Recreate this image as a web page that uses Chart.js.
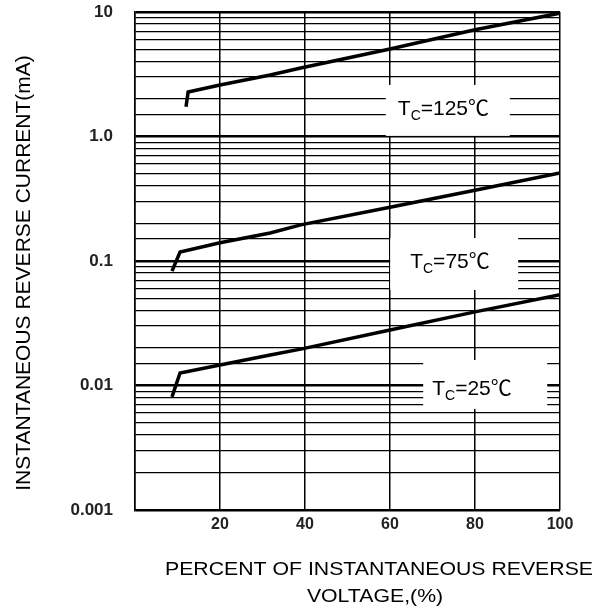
<!DOCTYPE html>
<html>
<head>
<meta charset="utf-8">
<script src="https://cdn.jsdelivr.net/npm/chart.js@4"></script>
<style>
  html, body { margin: 0; padding: 0; background: #fff; }
  canvas { display: block; }
</style>
</head>
<body>
<canvas id="chart" width="605" height="611"></canvas>
<script>
// curves: percent of reverse voltage vs current (mA)
const x125 = [12, 12.5, 20, 31.8, 39, 60, 80, 100];
const y125 = [1.73, 2.28, 2.59, 3.12, 3.55, 5.05, 7.2, 9.8];

const x75 = [8.7, 10.6, 20, 31.8, 39, 60, 80, 100];
const y75 = [0.083, 0.118, 0.140, 0.168, 0.195, 0.27, 0.37, 0.51];

const x25 = [8.7, 10.6, 20, 31.8, 39, 60, 80, 100];
const y25 = [0.0081, 0.0126, 0.0146, 0.0176, 0.0196, 0.0279, 0.039, 0.0535];

const seriesNames = ['125', '75', '25'];

const yTickValues = [0.001, 0.01, 0.1, 1, 10];
const yTickLabels = ['0.001', '0.01', '0.1', '1.0', '10'];
const xTickValues = [20, 40, 60, 80, 100];
const xTickLabels = ['20', '40', '60', '80', '100'];

const yTitle = 'INSTANTANEOUS REVERSE CURRENT(mA)';
const xTitle = ['PERCENT OF INSTANTANEOUS REVERSE', 'VOLTAGE,(%)'];

const FONT = "'Liberation Sans', Arial, 'Noto Sans CJK SC', sans-serif";

function toPoints(xs, ys) {
  return xs.map((x, i) => ({ x: x, y: ys[i] }));
}

function findIndex(list, v) {
  return list.findIndex(t => Math.abs(t - v) / t < 1e-6);
}

function isDecade(v) {
  return findIndex(yTickValues, v) >= 0;
}

// white boxes + "Tc=..℃" labels, placed in data coords (box centre)
const tempLabels = {
  id: 'tempLabels',
  beforeDatasetsDraw(chart, args, opts) {
    const ctx = chart.ctx;
    const xs = chart.scales.x, ys = chart.scales.y;
    ctx.save();
    ctx.fillStyle = '#fff';
    opts.items.forEach(it => {
      const cx = xs.getPixelForValue(it.x);
      const cy = ys.getPixelForValue(it.y);
      ctx.fillRect(cx - it.w / 2, cy - it.h / 2, it.w, it.h);
    });
    ctx.restore();
  },
  afterDatasetsDraw(chart, args, opts) {
    const ctx = chart.ctx;
    const xs = chart.scales.x, ys = chart.scales.y;
    ctx.save();
    ctx.fillStyle = '#000';
    ctx.textBaseline = 'alphabetic';
    ctx.textAlign = 'left';
    opts.items.forEach((it, i) => {
      const cx = xs.getPixelForValue(it.x);
      const cy = ys.getPixelForValue(it.y);
      let px = cx + it.tx;
      const base = cy + it.ty;
      ctx.font = '21px ' + FONT;
      ctx.fillText('T', px, base);
      px += ctx.measureText('T').width;
      ctx.font = '14px ' + FONT;
      ctx.fillText('C', px, base + 5);
      px += ctx.measureText('C').width;
      ctx.font = '21px ' + FONT;
      ctx.fillText('=' + seriesNames[i] + '\u2103', px, base);
    });
    ctx.restore();
  }
};

// axis titles
const axisTitles = {
  id: 'axisTitles',
  afterDraw(chart) {
    const ctx = chart.ctx;
    ctx.save();
    ctx.fillStyle = '#000';
    ctx.textAlign = 'center';
    ctx.textBaseline = 'middle';

    ctx.font = '21px ' + FONT;
    ctx.translate(24, 273);
    ctx.rotate(-Math.PI / 2);
    ctx.fillText(yTitle, 0, 0);
    ctx.setTransform(1, 0, 0, 1, 0, 0);

    ctx.font = '19px ' + FONT;
    const w = ctx.measureText(xTitle[0]).width;
    const sx = 428 / w;
    ctx.translate(379, 570);
    ctx.scale(sx, 1);
    ctx.fillText(xTitle[0], 0, 0);
    ctx.setTransform(1, 0, 0, 1, 0, 0);
    ctx.translate(375, 597);
    ctx.scale(sx, 1);
    ctx.fillText(xTitle[1], 0, 0);
    ctx.restore();
  }
};

const lineStyle = {
  borderColor: '#000',
  borderWidth: 3.5,
  pointRadius: 0,
  fill: false,
  tension: 0
};

new Chart(document.getElementById('chart'), {
  type: 'line',
  data: {
    datasets: [
      Object.assign({ label: seriesNames[0], data: toPoints(x125, y125) }, lineStyle),
      Object.assign({ label: seriesNames[1], data: toPoints(x75, y75) }, lineStyle),
      Object.assign({ label: seriesNames[2], data: toPoints(x25, y25) }, lineStyle)
    ]
  },
  options: {
    responsive: false,
    animation: false,
    layout: { padding: { top: 12, right: 45, left: 0, bottom: 0 } },
    scales: {
      x: {
        type: 'linear',
        min: 0,
        max: 100,
        afterFit: s => {
          s.height = 101;
          s.paddingLeft = 0; s.paddingRight = 0;
        },
        grid: { color: '#000', lineWidth: 1.5, drawTicks: false },
        border: { color: '#000', width: 1.5 },
        ticks: {
          stepSize: 20,
          padding: 5,
          color: '#222',
          font: { family: FONT, size: 16, weight: 'bold' },
          callback: v => {
            const i = findIndex(xTickValues, v);
            return i >= 0 ? xTickLabels[i] : '';
          }
        }
      },
      y: {
        type: 'logarithmic',
        min: 0.001,
        max: 10,
        afterFit: s => {
          s.width = 135;
          s.paddingTop = 0; s.paddingBottom = 0;
        },
        grid: {
          color: '#000',
          drawTicks: false,
          lineWidth: c => (c.tick && isDecade(c.tick.value)) ? 2.6 : 1.3
        },
        border: { color: '#000', width: 1.5 },
        ticks: {
          autoSkip: false,
          padding: 22,
          color: '#222',
          font: { family: FONT, size: 17, weight: 'bold' },
          callback: v => {
            const i = findIndex(yTickValues, v);
            return i >= 0 ? yTickLabels[i] : '';
          }
        }
      }
    },
    plugins: {
      legend: { display: false },
      tooltip: { enabled: false },
      tempLabels: {
        items: [
          { x: 73.6, y: 1.62, w: 124, h: 51, tx: -50, ty: 4.5 },
          { x: 75.1, y: 0.0946, w: 128, h: 52, tx: -44, ty: 4 },
          { x: 82.4, y: 0.0102, w: 124, h: 49, tx: -53, ty: 10.5 }
        ]
      }
    }
  },
  plugins: [tempLabels, axisTitles]
});
</script>
</body>
</html>
